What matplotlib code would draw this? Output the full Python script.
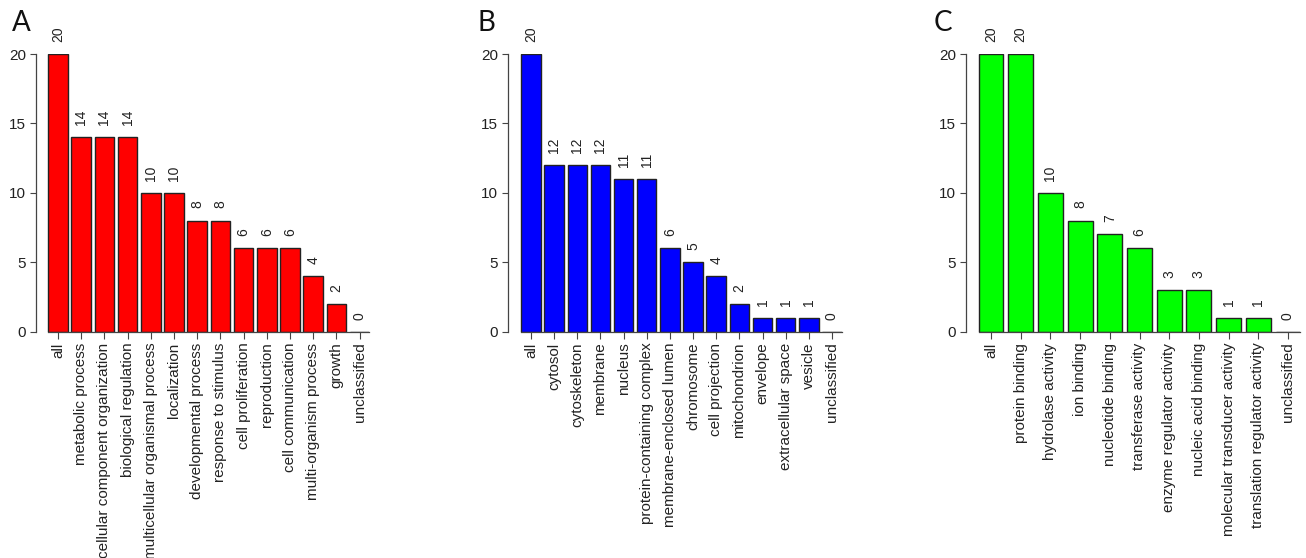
import matplotlib
matplotlib.use("Agg")
import matplotlib.pyplot as plt

plt.rcParams['font.family'] = ['Liberation Sans', 'DejaVu Sans']

# GO categories, counts
bp_names = ['all', 'metabolic process', 'cellular component organization',
            'biological regulation', 'multicellular organismal process',
            'localization', 'developmental process', 'response to stimulus',
            'cell proliferation', 'reproduction', 'cell communication',
            'multi-organism process', 'growth', 'unclassified']
bp_counts = [20, 14, 14, 14, 10, 10, 8, 8, 6, 6, 6, 4, 2, 0]

cc_names = ['all', 'cytosol', 'cytoskeleton', 'membrane', 'nucleus',
            'protein-containing complex', 'membrane-enclosed lumen',
            'chromosome', 'cell projection', 'mitochondrion', 'envelope',
            'extracellular space', 'vesicle', 'unclassified']
cc_counts = [20, 12, 12, 12, 11, 11, 6, 5, 4, 2, 1, 1, 1, 0]

mf_names = ['all', 'protein binding', 'hydrolase activity', 'ion binding',
            'nucleotide binding', 'transferase activity',
            'enzyme regulator activity', 'nucleic acid binding',
            'molecular transducer activity', 'translation regulator activity',
            'unclassified']
mf_counts = [20, 20, 10, 8, 7, 6, 3, 3, 1, 1, 0]

yticks = [0, 5, 10, 15, 20]

W, H = 1306, 558
fig = plt.figure(figsize=(W / 100, H / 100), dpi=100)

# pixel layout
y0_px, y20_px = 331.5, 54
BW = 0.84
px2pt = 72 / 100


def panel(names, counts, color, axis_px, first_px, step_px, letter, letter_px):
    n = len(names)
    right_px = first_px + step_px * (n - 1 + BW / 2)
    ax = fig.add_axes([axis_px / W, (H - y0_px) / H,
                       (right_px - axis_px) / W, (y0_px - y20_px) / H])
    ax.set_xlim(-(first_px - axis_px) / step_px, n - 1 + BW / 2)
    ax.set_ylim(0, 20)
    ax.bar(range(n), counts, width=BW, color=color, edgecolor='#222222',
           linewidth=1.0, zorder=2)
    for i, v in enumerate(counts):
        ax.annotate(str(v), xy=(i, v), xytext=(0, 12 * px2pt),
                    textcoords='offset points', rotation=90, ha='center',
                    va='bottom', fontsize=10, color='#222222',
                    annotation_clip=False)
    for s in ['top', 'right']:
        ax.spines[s].set_visible(False)
    ax.spines['left'].set_bounds(0, 20)
    ax.spines['bottom'].set_bounds(-BW / 2, n - 1 + BW / 2)
    for s in ['left', 'bottom']:
        ax.spines[s].set_color('#444444')
        ax.spines[s].set_linewidth(0.9)
    ax.set_yticks(yticks)
    ax.set_xticks(range(n))
    ax.set_xticklabels(names, rotation=90, ha='center', va='top')
    ax.tick_params(axis='y', length=6 * px2pt, width=0.8, color='#444444',
                   labelsize=11, labelcolor='#222222', pad=3)
    ax.tick_params(axis='x', length=7 * px2pt, width=0.8, color='#444444',
                   labelsize=11, labelcolor='#222222', pad=3)
    fig.text(letter_px / W, (H - 31) / H, letter, fontsize=20,
             family=['Lato', 'DejaVu Sans'], color='#111111',
             ha='left', va='baseline')


panel(bp_names, bp_counts, '#ff0000', 36, 58, 23.2, 'A', 12)
panel(cc_names, cc_counts, '#0000ff', 508, 531, 23.15, 'B', 478)
panel(mf_names, mf_counts, '#00ff00', 966, 991, 29.7, 'C', 934)

fig.savefig('out.png', dpi=100)
